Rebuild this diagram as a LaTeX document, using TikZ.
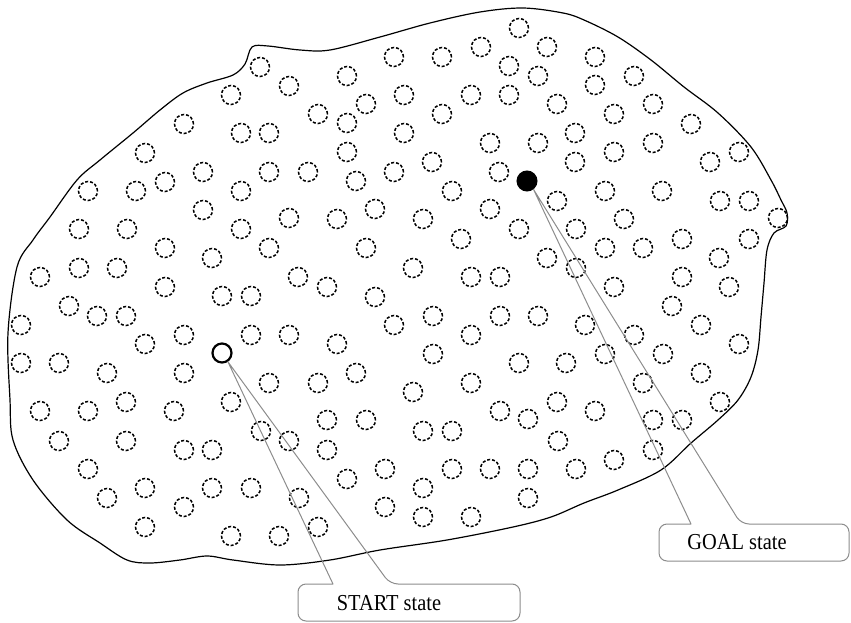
\documentclass[tikz,border=0pt]{standalone}
\usepackage{fontspec}
\setmainfont{Liberation Serif}
\begin{document}
\begin{tikzpicture}[x=1pt,y=-1pt,
  dc/.style={circle,draw,line width=1.5pt,dash pattern=on 3pt off 1.9pt,minimum size=19pt,inner sep=0pt},
  startc/.style={circle,draw,line width=2.2pt,minimum size=19pt,inner sep=0pt},
  goalc/.style={circle,fill=black,draw,line width=1pt,minimum size=20pt,inner sep=0pt},
  region/.style={line width=1.2pt},
  callout/.style={draw=black!45,line width=1pt,line join=round},
  boxfill/.style={fill=white,rounded corners=8pt},
  lbl/.style={inner sep=0pt,font=\fontsize{20}{24}\selectfont}]
\useasboundingbox (0,0) rectangle (851,623);
\draw[region] plot[smooth cycle,tension=0.55] coordinates {
 (252,47) (268,46) (300,50) (330,50) (380,37) (430,23) (480,12) (523,8) (563,13) (584,20)
 (618,37) (651,60) (684,87) (718,113) (751,147) (771,180) (781,200) (787,213) (786,226)
 (774,233) (767,250) (764,283) (761,317) (758,350) (751,377) (738,400) (718,420) (691,443)
 (661,470) (618,490) (584,503) (551,517) (513,527) (447,540) (380,550) (330,560) (280,565)
 (233,560) (207,556) (180,560) (150,563) (127,560) (100,543) (67,520) (33,480) (13,440)
 (10,400) (8,333) (17,267) (33,240) (50,217) (77,180) (100,160) (133,133) (160,110)
 (183,93) (207,83) (233,75) (245,64)};
\foreach \x/\y [count=\i] in {
 260/67,289/86,231/95,184/124,241/133,269/133,145/153,203/172,269/172,165/182,
 136/191,88/191,241/191,203/210,519/28,547/47,481/47,442/57,394/57,509/66,
 538/76,347/76,404/95,471/95,509/95,366/104,318/114,442/114,557/104,347/123,
 404/133,490/143,538/143,575/133,347/152,432/162,308/172,394/172,499/172,575/162,
 356/181,452/191,557/201,490/209,375/209,595/57,634/76,595/85,614/114,653/104,
 691/124,614/152,653/143,739/152,710/162,605/191,662/191,720/201,749/201,778/218,
 289/218,337/219,423/219,624/219,576/229,79/229,127/229,241/229,165/248,212/258,
 269/248,40/277,79/268,117/268,165/287,222/296,251/296,69/306,97/316,126/316,
 21/325,145/344,184/335,251/335,289/335,21/363,59/363,107/373,184/373,269/383,
 40/411,88/411,126/402,174/411,231/402,519/229,461/239,366/248,413/268,298/277,
 327/287,471/277,500/277,547/258,576/268,375/297,433/316,394/325,500/316,538/316,
 585/325,337/344,471/335,433/354,519/363,566/363,356/373,318/383,471/383,413/392,
 557/402,500/411,528/419,605/248,643/248,682/239,749/239,719/258,682/277,614/287,
 729/287,672/306,634/335,701/325,739/344,605/354,663/354,701/373,643/383,595/411,
 720/402,653/420,682/420,558/441,614/460,653/450,576/469,59/441,126/441,184/450,
 212/450,261/431,289/441,88/469,145/488,107/498,212/488,251/488,184/507,299/498,
 145/527,231/536,279/536,327/420,366/420,327/450,423/431,452/431,347/479,385/469,
 423/488,452/469,490/469,528/469,385/507,423/517,471/517,528/498,318/527}
 \node[dc] (c\i) at (\x,\y) {};
\node[startc] (s) at (222,353) {};
\node[goalc] (g) at (527,181) {};
% START callout
\coordinate (sa) at (333,584);
\coordinate (sb) at (390,584);
\fill[boxfill] (298,584) rectangle (520,621);
\draw[callout] (s.-56) -- (sa) [rounded corners=8pt] -- (298,584) -- (298,621) -- (520,621) -- (520,584) -- (sb) [sharp corners] -- cycle;
\node[lbl] (st) at (389,603) {\scalebox{1.02}[1.14]{START state}};
% GOAL callout
\coordinate (ga) at (691,524);
\coordinate (gb) at (741,524);
\fill[boxfill] (659,524) rectangle (849,561);
\draw[callout] (g.-52) -- (ga) [rounded corners=8pt] -- (659,524) -- (659,561) -- (849,561) -- (849,524) -- (gb) [sharp corners] -- cycle;
\node[lbl] (gt) at (737,542) {\scalebox{1.02}[1.14]{GOAL state}};
\end{tikzpicture}
\end{document}
